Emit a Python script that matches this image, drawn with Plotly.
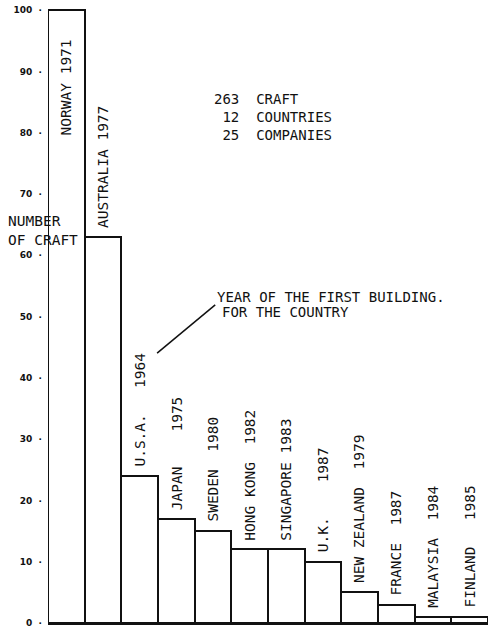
import plotly.graph_objects as go

countries = ["NORWAY", "AUSTRALIA", "U.S.A.", "JAPAN", "SWEDEN", "HONG KONG",
             "SINGAPORE", "U.K.", "NEW ZEALAND", "FRANCE", "MALAYSIA", "FINLAND"]
first_year = [1971, 1977, 1964, 1975, 1980, 1982, 1983, 1987, 1979, 1987, 1984, 1985]
craft = [100, 63, 24, 17, 15, 12, 12, 10, 5, 3, 1, 1]
name_year_spaces = [1, 1, 3, 4, 2, 2, 1, 4, 2, 2, 2, 3]
y_ticks = [0, 10, 20, 30, 40, 50, 60, 70, 80, 90, 100]
y_tick_text = [f"{v}\u00a0\u00a0\u00b7" for v in y_ticks]

summary_lines = ["263\u00a0\u00a0CRAFT", "\u00a012\u00a0\u00a0COUNTRIES", "\u00a025\u00a0\u00a0COMPANIES"]

MONO = "DejaVu Sans Mono"
INK = "#111111"

fig = go.Figure(go.Bar(
    x=countries, y=craft, width=1,
    marker=dict(color="white", line=dict(color=INK, width=2)),
    hoverinfo="x+y",
))

annotations = []
for i, (c, yr, v) in enumerate(zip(countries, first_year, craft)):
    label = c.replace(" ", "\u00a0") + "\u00a0" * name_year_spaces[i] + str(yr)
    inside = i == 0
    annotations.append(dict(
        x=c, y=v, xref="x", yref="y", text=label, textangle=-90,
        showarrow=False, xanchor="center",
        yanchor="top" if inside else "bottom",
        yshift=-27 if inside else 7,
        font=dict(family=MONO, size=14.5, color=INK),
    ))

annotations.append(dict(
    x=-0.095, y=0.665, xref="paper", yref="paper", xanchor="left", yanchor="top",
    text="NUMBER<br>OF\u00a0CRAFT", align="left", showarrow=False,
    font=dict(family=MONO, size=14.5, color=INK),
))
annotations.append(dict(
    x=0.372, y=0.862, xref="paper", yref="paper", xanchor="left", yanchor="top",
    text="<br>".join(summary_lines), align="left", showarrow=False,
    font=dict(family=MONO, size=14, color=INK),
))
annotations.append(dict(
    x=0.38, y=0.543, xref="paper", yref="paper", xanchor="left", yanchor="top",
    text="YEAR\u00a0OF\u00a0THE\u00a0FIRST\u00a0BUILDING.", align="left", showarrow=False,
    font=dict(family=MONO, size=14, color=INK),
))
annotations.append(dict(
    x=0.39, y=0.519, xref="paper", yref="paper", xanchor="left", yanchor="top",
    text="FOR\u00a0THE\u00a0COUNTRY", align="left", showarrow=False,
    font=dict(family=MONO, size=14, color=INK),
))

fig.update_layout(
    width=490, height=636,
    margin=dict(l=48, r=2, t=4, b=13),
    paper_bgcolor="white", plot_bgcolor="white",
    showlegend=False, bargap=0,
    annotations=annotations,
    shapes=[dict(type="line", xref="paper", yref="paper",
                 x0=0.248, y0=0.436, x1=0.380, y1=0.514,
                 line=dict(color=INK, width=1.5))],
    xaxis=dict(range=[-0.5, 11.5], showticklabels=False, ticks="",
               showgrid=False, zeroline=False, showline=True,
               linecolor=INK, linewidth=2),
    yaxis=dict(range=[0, 101], tickvals=y_ticks, ticktext=y_tick_text,
               showgrid=False, zeroline=False, showline=False, ticks="",
               automargin=False, ticklabelstandoff=5,
               tickfont=dict(family="DejaVu Sans", size=9, color=INK, weight="bold")),
)

fig.write_html("out.html", config={"displayModeBar": False},
               post_script="document.body.style.margin='0';document.body.style.overflow='hidden';")
